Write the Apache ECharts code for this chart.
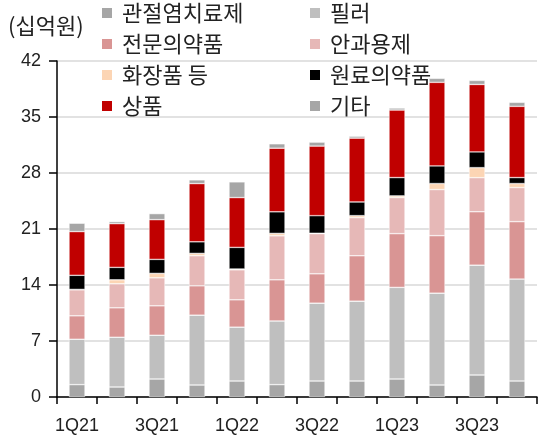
<!DOCTYPE html>
<html>
<head>
<meta charset="utf-8">
<script src="https://cdn.jsdelivr.net/npm/echarts@6/dist/echarts.min.js"></script>
<style>
  html, body { margin: 0; padding: 0; background: #fff; }
  #main { width: 546px; height: 436px; }
</style>
</head>
<body>
<div id="main"></div>
<script>
// 분기
const quarters = ["1Q21", "2Q21", "3Q21", "4Q21", "1Q22", "2Q22", "3Q22", "4Q22", "1Q23", "2Q23", "3Q23", "4Q23"];

// 부문별 매출 (십억원)
const arthritis = [1.55, 1.25, 2.25, 1.5, 2.0, 1.55, 2.0, 2.0, 2.25, 1.5, 2.75, 2.0];
const filler = [5.67, 6.22, 5.47, 8.73, 6.73, 7.95, 9.73, 9.98, 11.45, 11.48, 13.73, 12.74];
const etc_drug = [2.93, 3.68, 3.68, 3.67, 3.42, 5.15, 3.67, 5.68, 6.72, 7.19, 6.68, 7.18];
const eye = [3.25, 3.0, 3.5, 3.76, 3.75, 5.5, 5.02, 4.76, 4.51, 5.76, 4.26, 4.26];
const cosmetics = [0.05, 0.5, 0.55, 0.29, 0.1, 0.3, 0.05, 0.25, 0.21, 0.75, 1.25, 0.5];
const api = [1.76, 1.55, 1.75, 1.45, 2.7, 2.7, 2.2, 1.71, 2.29, 2.21, 1.97, 0.75];
const goods = [5.47, 5.47, 4.97, 7.28, 6.23, 7.95, 8.69, 7.98, 8.44, 10.44, 8.43, 8.9];
const others = [1.04, 0.25, 0.75, 0.46, 1.96, 0.55, 0.5, 0.24, 0.25, 0.5, 0.5, 0.5];

const yTicks = [0, 7, 14, 21, 28, 35, 42];

const font = "'Liberation Sans', 'Noto Sans CJK KR', sans-serif";
const krFont = "'Noto Sans CJK KR', 'Liberation Sans', sans-serif";

const chart = echarts.init(document.getElementById("main"));

function bar(name, data, color) {
  return {
    name: name,
    type: "bar",
    stack: "total",
    data: data,
    barWidth: 16,
    itemStyle: { color: color, borderColor: "#fff", borderWidth: 0.5 },
    emphasis: { disabled: true },
  };
}

const legendBase = {
  orient: "vertical",
  top: 0,
  padding: 0,
  icon: "rect",
  itemWidth: 10,
  itemHeight: 10,
  itemGap: 5,
  selectedMode: false,
  itemStyle: { borderWidth: 0 },
  textStyle: { fontFamily: krFont, fontSize: 22, lineHeight: 26, color: "#222", padding: [0, 0, 0, 5] },
};

const option = {
  animation: false,
  grid: { left: 57, right: 9, top: 61, bottom: 39 },
  legend: [
    Object.assign({}, legendBase, { left: 102, data: ["관절염치료제", "전문의약품", "화장품 등", "상품"] }),
    Object.assign({}, legendBase, { left: 310, data: ["필러", "안과용제", "원료의약품", "기타"] }),
  ],
  graphic: [
    {
      type: "text",
      left: 8,
      top: 15,
      style: { text: "(십억원)", fontFamily: krFont, fontSize: 22, fill: "#222" },
    },
  ],
  xAxis: {
    type: "category",
    data: quarters,
    axisLine: { lineStyle: { color: "#000", width: 1.5 } },
    axisTick: { show: true, interval: 0, length: 7, lineStyle: { color: "#000", width: 1.5 } },
    axisLabel: { interval: 1, margin: 20, fontFamily: font, fontSize: 18, color: "#222" },
  },
  yAxis: {
    type: "value",
    min: yTicks[0],
    max: yTicks[yTicks.length - 1],
    interval: 7,
    axisLine: { show: true, lineStyle: { color: "#000", width: 1.5 } },
    axisTick: { show: true, length: 8, lineStyle: { color: "#000", width: 1.5 } },
    axisLabel: { margin: 16, fontFamily: font, fontSize: 18, color: "#222" },
    splitLine: { lineStyle: { color: "#d9d9d9", width: 1.5 } },
  },
  series: [
    bar("관절염치료제", arthritis, "#a6a6a6"),
    bar("필러", filler, "#bfbfbf"),
    bar("전문의약품", etc_drug, "#d99594"),
    bar("안과용제", eye, "#e6b8b7"),
    bar("화장품 등", cosmetics, "#fcd5b4"),
    bar("원료의약품", api, "#000000"),
    bar("상품", goods, "#c00000"),
    bar("기타", others, "#a6a6a6"),
  ],
};

chart.setOption(option);
</script>
</body>
</html>
